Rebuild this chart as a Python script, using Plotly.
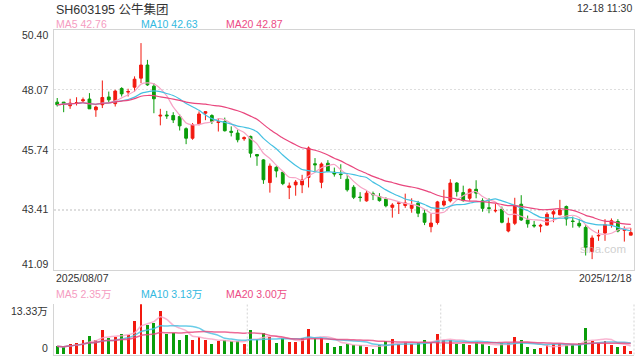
import plotly.graph_objects as go
import pandas as pd

# ---------------- data ----------------
dates = [d.strftime('%Y/%m/%d') for d in pd.bdate_range('2025-08-07', '2025-12-18')
         if not (pd.Timestamp('2025-10-01') <= d <= pd.Timestamp('2025-10-08'))]

opens = [47.59, 47.59, 47.45, 47.54, 47.64, 47.71, 47.29, 47.49, 47.79, 47.53, 48.12, 47.98, 48.17, 48.52, 49.03, 48.21, 47.05, 47.09, 47.07, 47.03, 46.56, 46.19, 46.75,
         47.16, 47.07, 46.80, 46.84, 46.46, 46.39, 46.17, 46.26, 45.56, 45.35, 44.47, 45.06, 44.87, 44.28, 44.38, 44.38, 44.67, 45.20, 44.48, 45.22, 44.87, 44.80, 44.60,
         44.29, 43.91, 43.76, 44.04, 43.93, 43.83, 43.51, 43.66, 43.58, 43.47, 43.67, 43.28, 42.76, 42.92, 43.60, 43.76, 44.45, 44.08, 43.86, 44.21, 43.76, 43.49,
         43.37, 43.44, 42.59, 42.89, 43.63, 43.02, 42.82, 42.78, 42.82, 43.25, 43.22, 43.54, 42.98, 42.89, 42.73, 41.80, 42.40, 42.51, 42.83, 42.96, 42.62, 42.43]
closes = [47.49, 47.54, 47.55, 47.57, 47.68, 47.33, 47.40, 47.77, 47.68, 48.02, 47.91, 48.00, 48.48, 49.03, 48.26, 47.72, 47.08, 47.06, 46.90, 46.67, 46.19, 46.71, 47.13,
          47.22, 46.84, 46.83, 46.48, 46.42, 46.13, 46.21, 45.61, 45.50, 44.58, 45.11, 44.92, 44.43, 44.34, 44.49, 44.57, 45.81, 45.16, 45.19, 44.90, 44.80, 44.78, 44.19,
          43.90, 43.89, 44.06, 44.00, 43.77, 43.57, 43.60, 43.68, 43.68, 43.60, 43.28, 42.93, 42.90, 43.72, 43.75, 44.45, 44.12, 43.77, 44.21, 44.06, 43.47, 43.47,
          43.39, 42.93, 42.89, 43.56, 43.02, 42.87, 42.79, 42.81, 43.24, 43.34, 43.41, 43.06, 42.96, 42.79, 41.95, 42.32, 42.42, 42.83, 42.99, 42.59, 42.64, 42.53]
highs = [47.75, 47.59, 47.72, 47.78, 47.77, 47.94, 47.45, 48.43, 48.00, 48.07, 48.17, 48.11, 48.59, 49.88, 49.23, 48.33, 47.33, 47.25, 47.20, 47.12, 46.61, 46.78, 47.23,
         47.23, 47.12, 46.97, 46.99, 46.65, 46.52, 46.26, 46.29, 45.56, 45.38, 45.21, 45.11, 44.89, 44.47, 44.57, 44.77, 45.87, 45.42, 45.25, 45.34, 45.05, 45.18, 44.77,
         44.37, 44.10, 44.15, 44.12, 44.06, 43.90, 43.67, 43.73, 44.04, 43.86, 43.76, 43.44, 43.26, 43.76, 44.19, 44.60, 44.49, 44.35, 44.24, 44.56, 43.86, 43.86,
         43.64, 43.54, 43.11, 43.88, 43.98, 43.19, 42.98, 42.87, 43.32, 43.42, 43.80, 43.58, 43.15, 43.05, 42.82, 42.42, 42.64, 43.05, 43.08, 43.05, 42.77, 42.71]
lows = [47.42, 47.20, 47.33, 47.46, 47.56, 47.33, 47.02, 47.36, 47.55, 47.42, 47.81, 47.81, 48.00, 48.33, 48.22, 47.16, 46.69, 46.94, 46.78, 46.49, 45.96, 46.13, 46.69,
        46.89, 46.74, 46.45, 46.45, 46.26, 46.03, 46.09, 45.44, 45.12, 44.42, 44.08, 44.67, 44.37, 43.83, 43.96, 44.06, 44.28, 44.87, 44.25, 44.87, 44.70, 44.61, 44.12,
        43.83, 43.73, 43.73, 43.79, 43.73, 43.51, 43.11, 43.25, 43.49, 43.30, 43.13, 42.82, 42.54, 42.84, 43.54, 43.70, 43.93, 43.73, 43.77, 43.86, 43.34, 43.28,
        43.31, 42.89, 42.54, 42.82, 42.98, 42.72, 42.72, 42.54, 42.80, 42.93, 43.20, 42.80, 42.72, 42.72, 41.64, 41.50, 42.21, 42.21, 42.72, 42.54, 42.18, 42.43]
volumes = [2.22, 1.96, 2.67, 3.11, 3.82, 4.89, 3.73, 6.49, 4.44, 4.71,
           5.51, 5.15, 8.98, 13.33, 7.82, 8.44, 11.55, 5.51, 5.60, 3.91,
           5.24, 3.91, 4.62, 3.91, 2.84, 3.64, 3.73, 3.47, 3.47, 2.84,
           6.58, 4.00, 5.78, 4.71, 3.11, 4.44, 3.38, 3.38, 4.27, 6.84,
           4.44, 4.44, 3.11, 2.04, 2.31, 2.84, 2.49, 2.40, 2.04, 1.51,
           2.58, 3.55, 4.18, 2.67, 3.29, 2.84, 3.11, 3.91, 3.29, 5.51,
           3.73, 3.91, 2.84, 2.84, 2.58, 3.29, 2.84, 2.31, 1.78, 3.11,
           3.11, 4.71, 3.91, 2.04, 1.51, 1.78, 2.40, 2.67, 2.67, 2.40,
           2.67, 3.11, 7.11, 3.47, 3.11, 3.64, 2.58, 2.04, 2.31, 0.80]  # 万

price_ticks = [50.40, 48.07, 45.74, 43.41, 41.09]
price_tick_labels = ["50.40", "48.07", "45.74", "43.41", "41.09"]
vol_max = 13.33
vol_tick_labels = ["13.33万", "0"]
title_text = "SH603195 公牛集团"
time_text = "12-18 11:30"
price_ma_text = ["MA5 42.76", "MA10 42.63", "MA20 42.87"]
vol_ma_text = ["MA5 2.35万", "MA10 3.13万", "MA20 3.00万"]

# ---------------- styling ----------------
RED = "#f2190f"
GREEN = "#0a9d0a"
MA_COLORS = ["#f7a3c5", "#45c1e2", "#e9477e"]
MA_TEXT_COLORS = ["#f59cc1", "#33b9e0", "#ec4c85"]
FONT = "Liberation Sans, Arial, Noto Sans CJK SC, sans-serif"
BORDER = "#d4d4d4"
GRID = "#dedede"
W, H = 640, 360
L_PX, R_PX = 54, 634

def py(p):
    return 1 - p / H

def px(p):
    return p / W

cs = pd.Series(closes)
vs = pd.Series(volumes)
periods = [5, 10, 20]

fig = go.Figure()
fig.add_trace(go.Candlestick(
    x=dates, open=opens, high=highs, low=lows, close=closes,
    increasing=dict(line=dict(color=RED, width=1), fillcolor=RED),
    decreasing=dict(line=dict(color=GREEN, width=1), fillcolor=GREEN),
    whiskerwidth=0, xaxis="x", yaxis="y", showlegend=False, hoverinfo="skip"))
for n, c in zip(periods, MA_COLORS):
    fig.add_trace(go.Scatter(x=dates, y=cs.rolling(n, min_periods=1).mean(), mode="lines",
                             line=dict(color=c, width=1.2, shape="spline", smoothing=0.6),
                             xaxis="x", yaxis="y", showlegend=False, hoverinfo="skip"))

vol_colors = [RED if c >= o else GREEN for o, c in zip(opens, closes)]
fig.add_trace(go.Bar(x=dates, y=volumes, marker=dict(color=vol_colors, line=dict(width=0)),
                     width=0.45, xaxis="x2", yaxis="y2", showlegend=False, hoverinfo="skip"))
for n, c in zip(periods, MA_COLORS):
    fig.add_trace(go.Scatter(x=dates, y=vs.rolling(n, min_periods=1).mean(), mode="lines",
                             line=dict(color=c, width=1.5, shape="spline", smoothing=0.6),
                             opacity=0.8, xaxis="x2", yaxis="y2", showlegend=False, hoverinfo="skip"))

xdom = [px(L_PX), px(R_PX)]
fig.update_layout(
    width=W, height=H, margin=dict(l=0, r=0, t=0, b=0),
    paper_bgcolor="white", plot_bgcolor="white",
    font=dict(family=FONT, size=10, color="#333333"),
    showlegend=False, bargap=0, boxgap=0.38,
    xaxis=dict(domain=xdom, type="category", range=[-0.5, len(dates) - 0.5], anchor="y",
               showticklabels=False, showgrid=False, zeroline=False, ticks="",
               showline=True, mirror=True, linecolor=BORDER, linewidth=1,
               rangeslider=dict(visible=False)),
    yaxis=dict(domain=[py(269.7), py(29.7)], range=[price_ticks[-1], price_ticks[0]], anchor="x",
               tickvals=price_ticks[1:-1], showticklabels=False, ticks="",
               showgrid=True, gridcolor=GRID, gridwidth=1.3, griddash="2px,2px", zeroline=False,
               showline=True, mirror=True, linecolor=BORDER, linewidth=1),
    xaxis2=dict(domain=xdom, type="category", matches="x", anchor="y2",
                showticklabels=False, showgrid=False, zeroline=False, ticks="",
                showline=True, linecolor=BORDER, linewidth=1),
    yaxis2=dict(domain=[py(354.5), py(304.3)], range=[0, vol_max], anchor="x2",
                tickvals=[vol_max], showticklabels=False, ticks="",
                showgrid=True, gridcolor=GRID, gridwidth=1.3, griddash="2px,2px", zeroline=False,
                showline=True, linecolor=BORDER, linewidth=1),
)

# dotted verticals in volume panel
for xv in [1 / 3, 2 / 3, 1.0]:
    fig.add_shape(type="line", xref="x2 domain", yref="y2 domain", x0=xv, x1=xv, y0=0, y1=1,
                  line=dict(color=GRID, width=1.3, dash="2px,2px"))

ann = []
def text(x, y, s, xa="left", size=10, color="#333333", ya="middle"):
    ann.append(dict(x=px(x), y=py(y), xref="paper", yref="paper", text=s, showarrow=False,
                    xanchor=xa, yanchor=ya, font=dict(family=FONT, size=size, color=color)))

text(54, 9, title_text, size=12.5)
text(634, 8, time_text, xa="right", size=10.5)
for xpos, s, c in zip([54, 139, 224], price_ma_text, MA_TEXT_COLORS):
    text(xpos, 24.5, s, size=10.5, color=c)
for xpos, s, c in zip([54, 139, 224], vol_ma_text, MA_TEXT_COLORS):
    text(xpos, 293.5, s, size=10.5, color=c)

tick_y = [35.3, 89.7, 149.7, 209.0, 263.5]
for yv, s in zip(tick_y, price_tick_labels):
    text(50, yv, s, xa="right", size=10.5)
text(50, 311, vol_tick_labels[0], xa="right", size=10.5)
text(50, 348, vol_tick_labels[1], xa="right", size=10.5)
text(54, 277.5, dates[0], size=10.5)
text(634, 277.5, dates[-1], xa="right", size=10.5)
text(603, 249, "sina.com", xa="center", size=11.5, color="rgba(190,190,190,0.75)")
fig.update_layout(annotations=ann)

fig.write_html("out.html", config={"displayModeBar": False, "staticPlot": True},
               post_script="document.body.style.margin='0';document.body.style.overflow='hidden';")
